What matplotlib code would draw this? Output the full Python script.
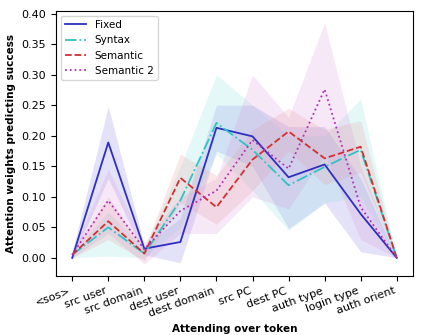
import numpy as np
import matplotlib
matplotlib.use("Agg")
import matplotlib.pyplot as plt

tokens = ['<sos>', 'src user', 'src domain', 'dest user', 'dest domain',
          'src PC', 'dest PC', 'auth type', 'login type', 'auth orient']

fixed = [0.0, 0.189, 0.015, 0.026, 0.213, 0.199, 0.132, 0.153, 0.072, 0.0]
fixed_lo = [-0.002, 0.13, 0.005, -0.008, 0.175, 0.15, 0.048, 0.09, 0.01, 0.0]
fixed_hi = [0.01, 0.248, 0.02, 0.065, 0.25, 0.25, 0.215, 0.215, 0.13, 0.0]

syntax = [0.005, 0.05, 0.007, 0.094, 0.221, 0.177, 0.119, 0.149, 0.177, 0.0]
syntax_lo = [0.0, 0.003, 0.0, 0.05, 0.17, 0.11, 0.045, 0.09, 0.1, 0.0]
syntax_hi = [0.01, 0.075, 0.015, 0.15, 0.30, 0.25, 0.2, 0.2, 0.26, 0.0]

semantic = [0.005, 0.06, 0.007, 0.131, 0.083, 0.161, 0.207, 0.163, 0.182, 0.0]
semantic_lo = [0.0, 0.03, -0.005, 0.09, 0.055, 0.11, 0.175, 0.12, 0.14, 0.0]
semantic_hi = [0.01, 0.1, 0.015, 0.17, 0.135, 0.21, 0.245, 0.21, 0.225, 0.0]

semantic2 = [0.005, 0.094, 0.014, 0.077, 0.11, 0.193, 0.146, 0.276, 0.083, 0.0]
semantic2_lo = [0.0, 0.04, -0.01, 0.04, 0.04, 0.1, 0.08, 0.17, 0.03, 0.0]
semantic2_hi = [0.01, 0.145, 0.025, 0.1, 0.13, 0.30, 0.23, 0.385, 0.15, 0.0]

x = np.arange(len(tokens))

fig, ax = plt.subplots(figsize=(4.24, 3.35), dpi=100)

series = [
    ('Fixed', fixed, fixed_lo, fixed_hi, '#2e2ec0', '#7b6fe0', '-'),
    ('Syntax', syntax, syntax_lo, syntax_hi, '#2ec4c4', '#7fe0e0', '-.'),
    ('Semantic', semantic, semantic_lo, semantic_hi, '#d03030', '#e89090', '--'),
    ('Semantic 2', semantic2, semantic2_lo, semantic2_hi, '#b030b8', '#d890d8', ':'),
]

for name, y, lo, hi, col, band, ls in series:
    ax.fill_between(x, lo, hi, color=band, alpha=0.2, linewidth=0)
    ax.plot(x, y, color=col, linestyle=ls, linewidth=1.3, label=name)

ax.set_xticks(x)
ax.set_xticklabels(tokens, rotation=20, ha='right', fontsize=8)
ax.set_yticks(np.arange(0, 0.41, 0.05))
ax.tick_params(axis='y', labelsize=8)
ax.set_xlabel('Attending over token', fontsize=7.5, fontweight='bold')
ax.set_ylabel('Attention weights predicting success', fontsize=7.5, fontweight='bold')
ax.legend(loc='upper left', fontsize=7.5)

fig.subplots_adjust(left=0.132, right=0.974, top=0.968, bottom=0.176)
fig.savefig('out.png', dpi=100)
